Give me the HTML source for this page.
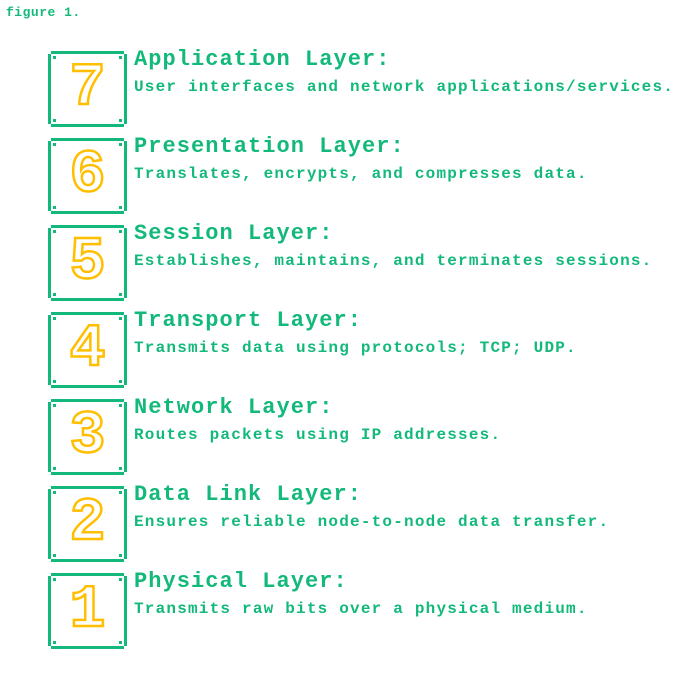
<!DOCTYPE html>
<html><head><style>
body{margin:0;width:700px;height:700px;background:#fff;position:relative;overflow:hidden;font-family:"Liberation Mono",monospace;color:#13b97a}
.fig{position:absolute;left:6px;top:5px;font-size:13px;font-weight:bold;letter-spacing:0.5px}
.box{position:absolute;left:47px;width:81px;height:78px;box-sizing:border-box}
.box .b{position:absolute;left:1px;top:1px;right:1px;bottom:1px;border:3px solid #13b97a}
.box .w{position:absolute;width:7px;height:7px;background:#fff}
.box .c{position:absolute;width:3px;height:3px;background:#13b97a}
.d{position:absolute;left:0;right:0;top:6px;text-align:center;font-size:60px;font-weight:bold;color:transparent;-webkit-text-stroke:2.5px #ffbf00;line-height:66px}
.t{position:absolute;left:134px;font-size:22px;font-weight:bold;line-height:24px;letter-spacing:1.05px}
.s{position:absolute;left:134px;font-size:16px;font-weight:bold;line-height:18px;letter-spacing:1.2px}
</style></head><body>
<div class="fig">figure 1.</div>
<div id="c"></div>
<script>
var L=[["7","Application Layer:","User interfaces and network applications/services."],
["6","Presentation Layer:","Translates, encrypts, and compresses data."],
["5","Session Layer:","Establishes, maintains, and terminates sessions."],
["4","Transport Layer:","Transmits data using protocols; TCP; UDP."],
["3","Network Layer:","Routes packets using IP addresses."],
["2","Data Link Layer:","Ensures reliable node-to-node data transfer."],
["1","Physical Layer:","Transmits raw bits over a physical medium."]];
var h="";
L.forEach(function(r,i){var y=50+i*87;
h+='<div class="box" style="top:'+y+'px"><div class="b"></div>'+
'<div class="w" style="left:0;top:0"></div><div class="w" style="right:0;top:0"></div><div class="w" style="left:0;bottom:0"></div><div class="w" style="right:0;bottom:0"></div>'+
'<div class="c" style="left:1px;top:4px"></div><div class="c" style="left:4px;top:1px"></div><div class="c" style="right:1px;top:4px"></div><div class="c" style="right:4px;top:1px"></div>'+
'<div class="c" style="left:1px;bottom:4px"></div><div class="c" style="left:4px;bottom:1px"></div><div class="c" style="right:1px;bottom:4px"></div><div class="c" style="right:4px;bottom:1px"></div>'+
'<div class="c" style="left:6px;top:6px"></div><div class="c" style="right:6px;top:6px"></div><div class="c" style="left:6px;bottom:6px"></div><div class="c" style="right:6px;bottom:6px"></div>'+
'<div class="d">'+r[0]+'</div></div>'+
'<div class="t" style="top:'+(y-2)+'px">'+r[1]+'</div><div class="s" style="top:'+(y+28)+'px">'+r[2]+'</div>';});
document.getElementById("c").innerHTML=h;
</script>
</body></html>
